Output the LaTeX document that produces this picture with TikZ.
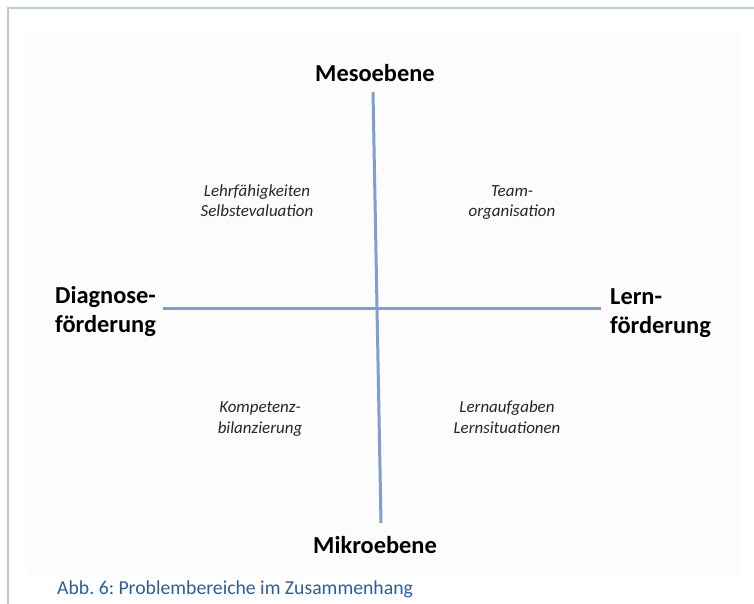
\documentclass[tikz,border=0pt]{standalone}
\usepackage{fontspec}
\setmainfont{Carlito}
\frenchspacing
\begin{document}
\begin{tikzpicture}[x=1bp,y=-1bp,
  axis/.style={draw=axisblue,line width=3bp},
  framestyle/.style={draw=framegray,line width=1.6bp},
  pole/.style={font=\fontsize{24.5}{29}\selectfont\bfseries,inner sep=0pt},
  field/.style={font=\fontsize{17}{20.5}\selectfont\itshape,align=center,inner sep=0pt,text=black!85},
  captext/.style={font=\fontsize{19.8}{22}\selectfont,text=capblue,inner sep=0pt,anchor=base west}
]
\definecolor{axisblue}{RGB}{125,160,205}
\definecolor{framegray}{RGB}{192,202,212}
\definecolor{capblue}{RGB}{45,95,150}
\useasboundingbox (0,0) rectangle (754,604);
\fill[white] (0,0) rectangle (754,604);
\fill[black!1] (29,30) rectangle (740,575);
\coordinate (ftr) at (754,8);
\coordinate (ftl) at (8,8);
\coordinate (fbl) at (8,604);
\draw[framestyle] (ftr) -- (ftl) -- (fbl);
% axes
\coordinate (vt) at (373,92);
\coordinate (vb) at (381,523);
\coordinate (hl) at (163,308);
\coordinate (hr) at (601,308);
\draw[axis] (vt) -- (vb);
\draw[axis] (hl) -- (hr);
% poles
\node[pole,anchor=base] (meso) at (375,82) {Mesoebene};
\node[pole,anchor=base] (mikro) at (375,553) {Mikroebene};
\node[pole,anchor=base west,align=left] (diag) at (55,332) {Diagnose-\\förderung};
\node[pole,anchor=base west,align=left] (lern) at (610,333) {Lern-\\förderung};
% fields
\node[field,anchor=base] (f1) at (257,217) {Lehrfähigkeiten\\Selbstevaluation};
\node[field,anchor=base] (f2) at (512,217) {Team-\\organisation};
\node[field,anchor=base] (f3) at (260,433) {Kompetenz-\\bilanzierung};
\node[field,anchor=base] (f4) at (507,433) {Lernaufgaben\\Lernsituationen};
% caption
\node[captext] (caption) at (57,594) {Abb. 6: Problembereiche im Zusammenhang};
\end{tikzpicture}
\end{document}
